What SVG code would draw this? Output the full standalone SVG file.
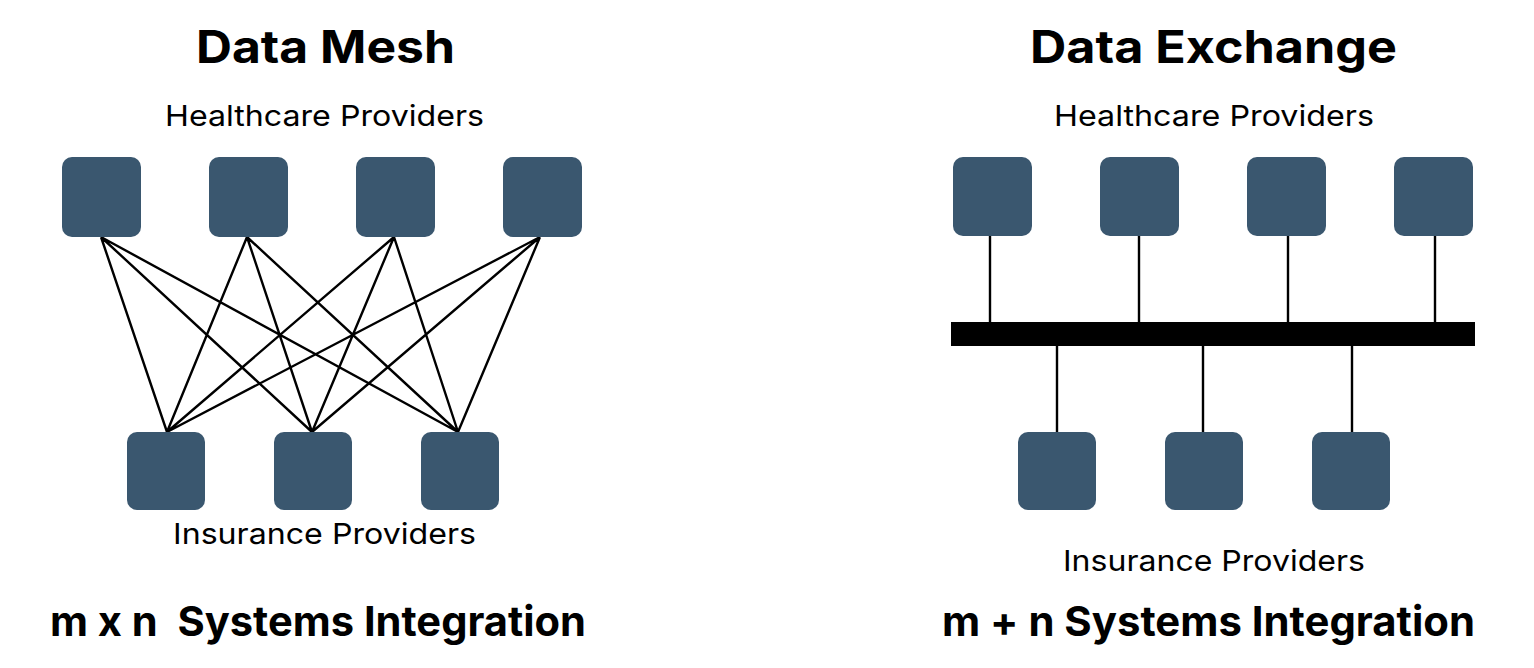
<svg xmlns="http://www.w3.org/2000/svg" width="1534" height="668" viewBox="0 0 1534 668">
<style>
.box{fill:#3A576F;}
.t{font-family:Inter,"Liberation Sans",Arial,sans-serif;fill:#000;text-anchor:middle;white-space:pre;}
.h{font-size:45px;font-weight:bold;}
.s{font-size:29px;}
.f{font-size:41px;font-weight:bold;}
.ln{stroke:#000;stroke-width:2.4;fill:none;}
</style>
<rect width="1534" height="668" fill="#fff"/>
<g id="mesh-labels">
<text class="t h" x="325.5" y="63" textLength="259" lengthAdjust="spacingAndGlyphs">Data Mesh</text>
<text class="t s" x="324.5" y="126" textLength="319" lengthAdjust="spacingAndGlyphs">Healthcare Providers</text>
<text class="t s" x="324.5" y="544" textLength="303" lengthAdjust="spacingAndGlyphs">Insurance Providers</text>
<text class="t f" x="318" y="636" textLength="536" lengthAdjust="spacingAndGlyphs">m x n  Systems Integration</text>
</g>
<g id="mesh-connectors">
<path class="ln" d="M101,237L167,432M101,237L312,432M101,237L458,432M247,237L167,432M247,237L312,432M247,237L458,432M394,237L167,432M394,237L312,432M394,237L458,432M540,237L167,432M540,237L312,432M540,237L458,432"/>
</g>
<g id="mesh-hp1"><rect class="box" x="62" y="157" width="79" height="80" rx="10"/></g>
<g id="mesh-hp2"><rect class="box" x="209" y="157" width="79" height="80" rx="10"/></g>
<g id="mesh-hp3"><rect class="box" x="356" y="157" width="79" height="80" rx="10"/></g>
<g id="mesh-hp4"><rect class="box" x="503" y="157" width="79" height="80" rx="10"/></g>
<g id="mesh-ip1"><rect class="box" x="127" y="432" width="78" height="78" rx="10"/></g>
<g id="mesh-ip2"><rect class="box" x="274" y="432" width="78" height="78" rx="10"/></g>
<g id="mesh-ip3"><rect class="box" x="421" y="432" width="78" height="78" rx="10"/></g>

<g id="exchange-labels">
<text class="t h" x="1213.5" y="63" textLength="367" lengthAdjust="spacingAndGlyphs">Data Exchange</text>
<text class="t s" x="1214" y="126" textLength="320" lengthAdjust="spacingAndGlyphs">Healthcare Providers</text>
<text class="t s" x="1214" y="571" textLength="302" lengthAdjust="spacingAndGlyphs">Insurance Providers</text>
<text class="t f" x="1208.5" y="636" textLength="533" lengthAdjust="spacingAndGlyphs">m + n Systems Integration</text>
</g>
<g id="exchange-connectors">
<path class="ln" d="M990,236V322M1139,236V322M1288,236V322M1435,236V322M1057,346V433M1203,346V433M1352,346V433"/>
</g>
<g id="exchange-bus"><rect x="951" y="322" width="524" height="24" fill="#000"/></g>
<g id="ex-hp1"><rect class="box" x="953" y="157" width="79" height="79" rx="10"/></g>
<g id="ex-hp2"><rect class="box" x="1100" y="157" width="79" height="79" rx="10"/></g>
<g id="ex-hp3"><rect class="box" x="1247" y="157" width="79" height="79" rx="10"/></g>
<g id="ex-hp4"><rect class="box" x="1394" y="157" width="79" height="79" rx="10"/></g>
<g id="ex-ip1"><rect class="box" x="1018" y="432" width="78" height="78" rx="10"/></g>
<g id="ex-ip2"><rect class="box" x="1165" y="432" width="78" height="78" rx="10"/></g>
<g id="ex-ip3"><rect class="box" x="1312" y="432" width="78" height="78" rx="10"/></g>
</svg>
